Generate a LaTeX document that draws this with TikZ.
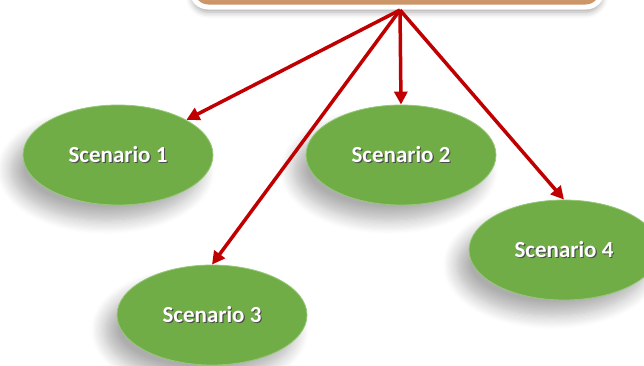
\documentclass[tikz,border=0pt]{standalone}
\usepackage{fontspec}
\setmainfont{Carlito}
\usetikzlibrary{shapes.geometric,shadows.blur,arrows.meta}
\definecolor{scgreen}{RGB}{112,173,71}
\definecolor{scedge}{RGB}{150,200,120}
\definecolor{arrred}{RGB}{192,0,0}
\definecolor{boxorange}{RGB}{226,166,116}
\newcommand{\shtext}[1]{\makebox[0pt][l]{\raisebox{-1.2pt}{\hspace{1.2pt}\textcolor{black!70}{#1}}}#1}
\tikzset{
  scen/.style={ellipse, fill=scgreen, draw=scedge, line width=0.8pt,
    minimum width=190pt, minimum height=100pt, inner sep=0pt,
    text=white, font=\fontsize{23}{26}\selectfont\bfseries,
    blur shadow={shadow xshift=-12pt, shadow yshift=-15pt, shadow blur radius=14pt, shadow blur steps=12, shadow opacity=32}},
  topbox/.style={rectangle, rounded corners=16pt, top color=boxorange, bottom color=boxorange!88!black,
    middle color=boxorange, draw=white, line width=5pt,
    minimum width=410pt, minimum height=60pt,
    blur shadow={shadow xshift=0pt, shadow yshift=-5pt, shadow blur radius=6pt, shadow opacity=35}},
  conn/.style={draw=arrred, line width=3.5pt, -{Triangle[length=13pt,width=13pt]}}
}
\begin{document}
\begin{tikzpicture}[x=1pt,y=-1pt]
\useasboundingbox (0,0) rectangle (644,365);
\clip (0,0) rectangle (644,365);
\node[topbox] (top) at (397,-23) {};
\node[scen] (s1) at (118,155) {\shtext{Scenario 1}};
\node[scen] (s2) at (401,155) {\shtext{Scenario 2}};
\node[scen] (s3) at (212,315) {\shtext{Scenario 3}};
\node[scen] (s4) at (564,250) {\shtext{Scenario 4}};
\coordinate (src) at (400,10);
\draw[conn] (src) -- (s1);
\draw[conn] (src) -- (s2.north);
\draw[conn] (src) -- (s3.north);
\draw[conn] (src) -- (s4.north);
\end{tikzpicture}
\end{document}
